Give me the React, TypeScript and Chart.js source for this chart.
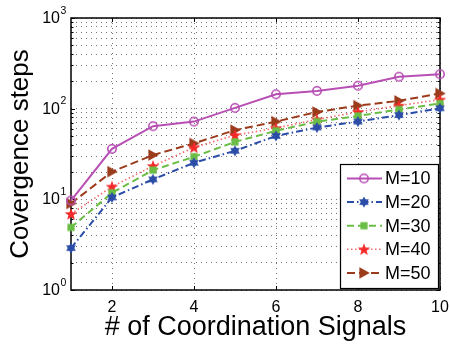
import React, { useEffect, useRef } from "react";
import { Chart, registerables } from "chart.js";

Chart.register(...registerables);

const xValues = [1, 2, 3, 4, 5, 6, 7, 8, 9, 10];
const m10 = [9.7, 36, 64, 72, 102, 144, 157, 179, 225, 240];
const m20 = [2.9, 10.5, 16.6, 25.3, 34.3, 50, 62, 72, 85, 101];
const m30 = [4.9, 11.8, 21, 29.5, 43, 57, 72, 83, 98, 114];
const m40 = [6.9, 13.8, 23.3, 37.4, 51, 61, 76, 92, 108, 126];
const m50 = [9.0, 20.2, 30.8, 41.4, 58, 72, 92, 108, 122, 147];
const seriesLabels = ["M=10", "M=20", "M=30", "M=40", "M=50"];
const xTickValues = [2, 4, 6, 8, 10];
const yDecades = [0, 1, 2, 3];

const FONT = "'Liberation Sans', Arial, Helvetica, sans-serif";

type Kind = "circle" | "hexagram" | "square" | "pentagram" | "triRight";

function makeMarker(kind: Kind, color: string): HTMLCanvasElement {
  const size = 16;
  const c = document.createElement("canvas");
  c.width = size;
  c.height = size;
  const g = c.getContext("2d")!;
  const cx = size / 2;
  const cy = size / 2;
  g.fillStyle = color;
  g.strokeStyle = color;
  g.lineJoin = "round";
  if (kind === "circle") {
    g.lineWidth = 1.6;
    g.beginPath();
    g.arc(cx, cy, 4.2, 0, Math.PI * 2);
    g.stroke();
  } else if (kind === "hexagram") {
    const R = 5.6;
    for (let t = 0; t < 2; t++) {
      g.beginPath();
      for (let i = 0; i < 3; i++) {
        const a = -Math.PI / 2 + t * Math.PI + (i * 2 * Math.PI) / 3;
        const px = cx + R * Math.cos(a);
        const py = cy + R * Math.sin(a);
        if (i === 0) g.moveTo(px, py);
        else g.lineTo(px, py);
      }
      g.closePath();
      g.fill();
    }
  } else if (kind === "square") {
    g.fillRect(cx - 3.6, cy - 3.6, 7.2, 7.2);
  } else if (kind === "pentagram") {
    const R = 6.6;
    const r = 2.7;
    g.beginPath();
    for (let i = 0; i < 10; i++) {
      const a = -Math.PI / 2 + (i * Math.PI) / 5;
      const rr = i % 2 === 0 ? R : r;
      const px = cx + rr * Math.cos(a);
      const py = cy + 0.5 + rr * Math.sin(a);
      if (i === 0) g.moveTo(px, py);
      else g.lineTo(px, py);
    }
    g.closePath();
    g.fill();
  } else {
    g.beginPath();
    g.moveTo(cx + 5.8, cy);
    g.lineTo(cx - 4.6, cy - 5.8);
    g.lineTo(cx - 4.6, cy + 5.8);
    g.closePath();
    g.fill();
  }
  return c;
}

export default function App() {
  const ref = useRef<HTMLCanvasElement | null>(null);

  useEffect(() => {
    const canvas = ref.current;
    if (!canvas) return;

    const colors = ["#B84FB4", "#2B4DA8", "#6BBE45", "#F42A2A", "#9B3B1C"];
    const lineColors = ["#B84FB4", "#2B4DA8", "#6BBE45", "rgba(240,70,70,0.8)", "#9B3B1C"];
    const kinds: Kind[] = ["circle", "hexagram", "square", "pentagram", "triRight"];
    const dashes = [[], [7, 3, 1.5, 3], [7, 4], [1.5, 2.5], [8, 4]];
    const widths = [2, 2, 2, 1.6, 2];
    const values = [m10, m20, m30, m40, m50];
    const markers = kinds.map((k, i) => makeMarker(k, colors[i]));

    const datasets = values.map((vals, i) => ({
      label: seriesLabels[i],
      data: xValues.map((x, j) => ({ x, y: vals[j] })),
      borderColor: lineColors[i],
      backgroundColor: colors[i],
      borderWidth: widths[i],
      borderDash: dashes[i],
      pointStyle: markers[i],
      pointRadius: 5,
      fill: false,
      tension: 0,
      clip: false as any,
    }));

    const framePlugin = {
      id: "frame",
      beforeDatasetsDraw(chart: any) {
        const { ctx, chartArea: a, scales } = chart;
        ctx.save();
        ctx.strokeStyle = "#000";
        ctx.lineWidth = 1;
        ctx.beginPath();
        for (const v of xTickValues) {
          const px = Math.round(scales.x.getPixelForValue(v)) + 0.5;
          ctx.moveTo(px, a.bottom);
          ctx.lineTo(px, a.bottom - 4);
          ctx.moveTo(px, a.top);
          ctx.lineTo(px, a.top + 4);
        }
        for (const d of yDecades) {
          for (let m = 1; m <= 9; m++) {
            const v = m * Math.pow(10, d);
            if (v > 1000) break;
            const py = Math.round(scales.y.getPixelForValue(v)) + 0.5;
            const len = m === 1 ? 4 : 2.5;
            ctx.moveTo(a.left, py);
            ctx.lineTo(a.left + len, py);
            ctx.moveTo(a.right, py);
            ctx.lineTo(a.right - len, py);
          }
        }
        ctx.stroke();
        ctx.lineWidth = 1.5;
        ctx.strokeRect(a.left, a.top, a.right - a.left, a.bottom - a.top);
        ctx.restore();
      },
      afterDraw(chart: any) {
        const { ctx, scales, chartArea: a } = chart;
        ctx.save();
        ctx.fillStyle = "#000";
        for (const d of yDecades) {
          const py = scales.y.getPixelForValue(Math.pow(10, d));
          ctx.font = `16px ${FONT}`;
          ctx.textAlign = "right";
          ctx.textBaseline = "middle";
          ctx.fillText("10", 60, py + 0.5);
          ctx.font = `10.5px ${FONT}`;
          ctx.textAlign = "left";
          ctx.textBaseline = "alphabetic";
          ctx.fillText(String(d), 60.5, py - 4.5);
        }
        // legend
        const lx = 340;
        const ly = 164;
        const lw = a.right - 2 - lx;
        const lh = a.bottom - 2 - ly;
        ctx.fillStyle = "#fff";
        ctx.fillRect(lx, ly, lw, lh);
        ctx.strokeStyle = "#000";
        ctx.lineWidth = 1.2;
        ctx.strokeRect(lx + 0.5, ly + 0.5, lw, lh);
        for (let i = 0; i < seriesLabels.length; i++) {
          const ry = ly + 14.5 + i * 23.6;
          ctx.strokeStyle = lineColors[i];
          ctx.lineWidth = widths[i];
          ctx.setLineDash(dashes[i]);
          ctx.beginPath();
          ctx.moveTo(347, ry);
          ctx.lineTo(382, ry);
          ctx.stroke();
          ctx.setLineDash([]);
          ctx.drawImage(markers[i], 364 - 8, ry - 8);
          ctx.fillStyle = "#000";
          ctx.font = `18px ${FONT}`;
          ctx.textAlign = "left";
          ctx.textBaseline = "middle";
          ctx.fillText(seriesLabels[i], 385, ry + 1);
        }
        ctx.restore();
      },
    };

    const gridColor = "rgba(0,0,0,0.55)";

    const chart = new Chart(canvas, {
      type: "line",
      data: { datasets: datasets as any },
      options: {
        responsive: false,
        animation: false,
        devicePixelRatio: 1,
        layout: { padding: { left: 0, right: 10, top: 18, bottom: 0 } },
        plugins: { legend: { display: false }, tooltip: { enabled: false } },
        scales: {
          x: {
            type: "linear",
            min: 1,
            max: 10,
            afterBuildTicks: (s: any) => {
              s.ticks = xTickValues.map((v) => ({ value: v }));
            },
            afterFit: (s: any) => {
              s.height = 55;
              s.paddingLeft = 0;
              s.paddingRight = 0;
            },
            grid: { color: gridColor, lineWidth: 1, drawTicks: false },
            border: { display: false, dash: [1, 4] },
            ticks: {
              color: "#000",
              font: { family: FONT, size: 16 },
              padding: 8,
              maxRotation: 0,
              autoSkip: false,
            },
            title: {
              display: true,
              text: "# of Coordination Signals",
              color: "#000",
              font: { family: FONT, size: 27 },
              padding: { top: 0, bottom: 1 },
            },
          },
          y: {
            type: "logarithmic",
            min: 1,
            max: 1000,
            afterBuildTicks: (s: any) => {
              const t: any[] = [];
              for (const d of yDecades) {
                for (let m = 1; m <= 9; m++) {
                  const v = m * Math.pow(10, d);
                  if (v > 1000) break;
                  t.push({ value: v, major: m === 1 });
                }
              }
              s.ticks = t;
            },
            afterFit: (s: any) => {
              s.width = 71;
              s.paddingTop = 0;
              s.paddingBottom = 0;
            },
            grid: { color: gridColor, lineWidth: 1, drawTicks: false },
            border: { display: false, dash: [1, 4] },
            ticks: { display: false },
            title: {
              display: true,
              text: "Covergence steps",
              color: "#000",
              font: { family: FONT, size: 26 },
              padding: { top: 5, bottom: 0 },
            },
          },
        },
      },
      plugins: [framePlugin],
    });

    return () => chart.destroy();
  }, []);

  return (
    <div style={{ position: "absolute", left: 0, top: 0, width: 450, height: 345, background: "#fff" }}>
      <canvas ref={ref} width={450} height={345} style={{ width: 450, height: 345 }} />
    </div>
  );
}
